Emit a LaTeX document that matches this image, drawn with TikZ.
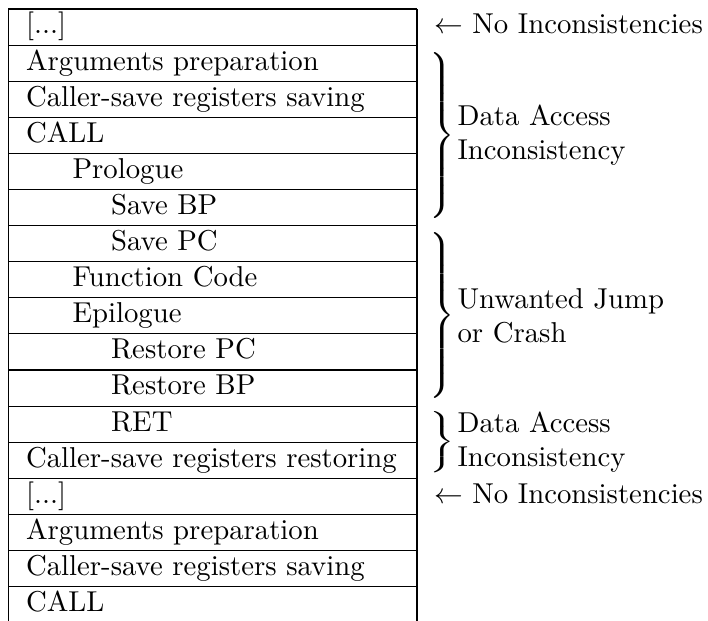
\documentclass[tikz,border=0pt]{standalone}
\usepackage{graphicx}
% right brace of an exact total height #2, built from a request of #1
\newcommand\tallbrace[2]{\resizebox*{\width}{#2}{$\delimiterfactor=1000\delimitershortfall=0pt\nulldelimiterspace=0pt
  \left.\vcenter{\hbox{\rule{0pt}{#1}}}\right\}$}}
\begin{document}
\begin{tikzpicture}[x=0.34783pt,y=-0.34783pt,
  gridline/.style={line width=0.4pt},
  celltext/.style={anchor=base west,inner sep=0pt},
  note/.style={anchor=west,inner sep=0pt,align=left},
  bracenode/.style={anchor=west,inner sep=0pt}]
\useasboundingbox (0,0) rectangle (708,621);
% table frame
\def\rowh{36.1}
\def\tabtop{9}
\draw[gridline] (8.3,\tabtop) -- (8.3,621);
\draw[gridline] (417,\tabtop) -- (417,621);
\foreach \k in {0,...,16}
  \draw[gridline] (8.3,{\tabtop+\rowh*\k}) -- (417,{\tabtop+\rowh*\k});
% cell texts: index / indent level / text
\foreach \i/\lvl/\txt in {
  0/0/{[...]},
  1/0/{Arguments preparation},
  2/0/{Caller-save registers saving},
  3/0/{CALL},
  4/1/{Prologue},
  5/2/{Save BP},
  6/2/{Save PC},
  7/1/{Function Code},
  8/1/{Epilogue},
  9/2/{Restore PC},
  10/2/{Restore BP},
  11/2/{RET},
  12/0/{Caller-save registers restoring},
  13/0/{[...]},
  14/0/{Arguments preparation},
  15/0/{Caller-save registers saving},
  16/0/{CALL}}{
  \pgfmathsetmacro\xx{{25.5,72,110.5}[\lvl]}
  \node[celltext] (r\i) at (\xx,{\tabtop+\rowh*\i+25}) {\txt};
}
% annotations
\node[celltext] (noA) at (433.5,{\tabtop+25}) {$\leftarrow$ No Inconsistencies};
\node[celltext] (noB) at (433.5,{\tabtop+\rowh*13+25}) {$\leftarrow$ No Inconsistencies};
\node[bracenode] (b1) at (429,135.4) {\tallbrace{57.5pt}{58pt}};
\node[bracenode] (b2) at (429,315.8) {\tallbrace{57.3pt}{57.8pt}};
\node[bracenode] (b3) at (429,442.2) {\tallbrace{31pt}{21.3pt}};
\node[note] (t1) at (457,135.4) {Data Access\\Inconsistency};
\node[note] (t2) at (457,315.8) {Unwanted Jump\\or Crash};
\node[note] (t3) at (457,442.2) {Data Access\\Inconsistency};
\end{tikzpicture}
\end{document}
